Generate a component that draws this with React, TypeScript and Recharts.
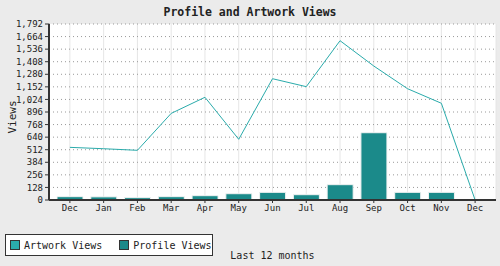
import React from "react";
import {
  ComposedChart,
  Bar,
  Line,
  XAxis,
  YAxis,
  CartesianGrid,
  Legend,
} from "recharts";

const months = ["Dec", "Jan", "Feb", "Mar", "Apr", "May", "Jun", "Jul", "Aug", "Sep", "Oct", "Nov", "Dec"];
const artworkViews = [536, 522, 506, 882, 1046, 618, 1235, 1154, 1622, 1364, 1133, 985, 0];
const profileViews = [34, 32, 24, 34, 44, 64, 78, 54, 156, 685, 78, 78, 0];
const yTicks = [0, 128, 256, 384, 512, 640, 768, 896, 1024, 1152, 1280, 1408, 1536, 1664, 1792];

const data = months.map((m, i) => ({
  month: m,
  artwork: artworkViews[i],
  profile: profileViews[i],
}));

const FONT = "'DejaVu Sans Mono', monospace";
const LINE_COLOR = "#2aabab";
const BAR_COLOR = "#1b8a8a";

const fmt = (v: number) => v.toLocaleString("en-US");

function LegendBox() {
  const item = (color: string, label: string, gap: number) => (
    <div style={{ display: "flex", alignItems: "center", marginRight: gap }}>
      <span
        style={{
          display: "inline-block",
          width: 8,
          height: 8,
          background: color,
          border: "1px solid #333",
          marginRight: 4,
        }}
      />
      <span>{label}</span>
    </div>
  );
  return (
    <div
      style={{
        display: "flex",
        alignItems: "center",
        boxSizing: "border-box",
        width: 208,
        height: 22,
        padding: "0 0 0 4px",
        background: "#fff",
        border: "1px solid #333",
        fontFamily: FONT,
        fontSize: 10,
        color: "#222",
      }}
    >
      {item(LINE_COLOR, "Artwork Views", 17)}
      {item(BAR_COLOR, "Profile Views", 0)}
    </div>
  );
}

export default function App() {
  return (
    <div style={{ position: "absolute", left: 0, top: 0, width: 500, height: 266, background: "#ebebeb" }}>
      <ComposedChart
        width={500}
        height={266}
        data={data}
        margin={{ top: 24, right: 4, bottom: 0, left: 0 }}
      >
        <text x={250} y={16} textAnchor="middle" fontFamily={FONT} fontSize={11.5} fontWeight="bold" fill="#222">
          Profile and Artwork Views
        </text>
        <text
          x={16}
          y={117}
          textAnchor="middle"
          fontFamily={FONT}
          fontSize={11}
          fill="#222"
          transform="rotate(-90 16 117)"
        >
          Views
        </text>
        <CartesianGrid fill="#fff" stroke="#e6e6e6" horizontal={false} vertical={true} />
        <CartesianGrid
          stroke="#999"
          strokeDasharray="1 3"
          horizontal={true}
          vertical={false}
          fill="none"
        />
        <XAxis
          dataKey="month"
          height={66}
          padding={{ left: 4, right: 4 }}
          interval={0}
          tick={{ fill: "#222", fontSize: 9, fontFamily: FONT }}
          tickLine={{ stroke: "#333" }}
          tickSize={3}
          axisLine={{ stroke: "#333", strokeWidth: 2 }}
          label={{ value: "Last 12 months", position: "insideBottom", offset: 7, fill: "#222", fontSize: 10, fontFamily: FONT }}
        />
        <XAxis
          xAxisId="top"
          orientation="top"
          dataKey="month"
          height={0}
          tick={false}
          tickLine={false}
          axisLine={{ stroke: "#aaa" }}
        />
        <YAxis
          width={49}
          domain={[0, 1792]}
          ticks={yTicks}
          interval={0}
          tickFormatter={fmt}
          tick={{ fill: "#222", fontSize: 9, fontFamily: FONT }}
          tickLine={{ stroke: "#333" }}
          tickSize={4}
          axisLine={{ stroke: "#333", strokeWidth: 2 }}
        />
        <YAxis
          yAxisId="right"
          orientation="right"
          width={0}
          domain={[0, 1792]}
          tick={false}
          tickLine={false}
          axisLine={{ stroke: "#aaa" }}
        />
        <Bar
          dataKey="profile"
          name="Profile Views"
          fill={BAR_COLOR}
          stroke="#f2f2f2"
          strokeWidth={1}
          barSize={26}
          isAnimationActive={false}
        />
        <Line
          dataKey="artwork"
          name="Artwork Views"
          type="linear"
          stroke={LINE_COLOR}
          strokeWidth={1}
          dot={false}
          activeDot={false}
          isAnimationActive={false}
        />
        <Legend
          layout="vertical"
          align="center"
          verticalAlign="middle"
          wrapperStyle={{ left: 5, top: 234, width: 208 }}
          content={() => <LegendBox />}
        />
      </ComposedChart>
    </div>
  );
}
